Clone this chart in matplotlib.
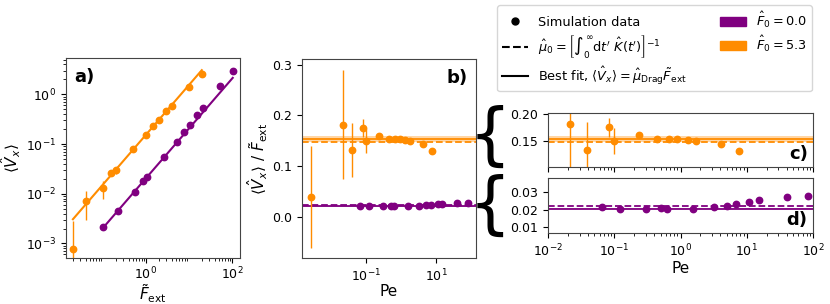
import numpy as np
import matplotlib
matplotlib.use("Agg")
import matplotlib.pyplot as plt
from matplotlib.lines import Line2D
from matplotlib.patches import Patch

# ---------------- data ----------------
# F0 = 5.3 (orange)
F_orange = np.array([0.02, 0.04, 0.10, 0.15, 0.20, 0.50, 1.0, 1.5, 2.0, 3.0, 4.0, 10.0, 20.0])
ratio_orange = np.array([0.039, 0.182, 0.132, 0.175, 0.149, 0.160, 0.154, 0.154, 0.153,
                         0.151, 0.149, 0.143, 0.130])
err_orange = np.array([0.100, 0.108, 0.053, 0.018, 0.024, 0.002, 0.002, 0.002, 0.002,
                       0.002, 0.002, 0.002, 0.002])
Pe_orange = np.array([0.00257, 0.0212, 0.0383, 0.0832, 0.0977, 0.236, 0.447, 0.678,
                      0.895, 1.31, 1.73, 4.14, 7.59])
mu_drag_orange = 0.1537
mu_drag_err_orange = 0.0053
mu0_orange = 0.1475

# F0 = 0.0 (purple)
F_purple = np.array([0.10, 0.22, 0.55, 0.87, 1.07, 2.7, 5.2, 7.9, 10.7, 15.8, 21.0, 54.0, 105.0])
ratio_purple = np.array([0.0213, 0.0202, 0.0202, 0.0208, 0.0202, 0.0202, 0.0213, 0.0222,
                         0.0231, 0.0245, 0.0255, 0.0272, 0.0280])
err_purple = np.array([0.0003] * 13)
Pe_purple = np.array([0.0653, 0.123, 0.305, 0.507, 0.625, 1.545, 3.24, 5.01, 6.92,
                      10.96, 15.1, 40.7, 83.2])
mu_drag_purple = 0.0205
mu_drag_err_purple = 0.0004
mu0_purple = 0.0223

ORANGE = "#FF8C00"
PURPLE = "#800080"

series = [
    (F_purple, ratio_purple, err_purple, Pe_purple, mu_drag_purple, mu_drag_err_purple, mu0_purple, PURPLE),
    (F_orange, ratio_orange, err_orange, Pe_orange, mu_drag_orange, mu_drag_err_orange, mu0_orange, ORANGE),
]

plt.rcParams["font.family"] = ["DejaVu Sans"]
plt.rcParams["xtick.labelsize"] = 9
plt.rcParams["ytick.labelsize"] = 9
plt.rcParams["axes.labelsize"] = 11
plt.rcParams["axes.edgecolor"] = "#444444"

W, H = 830, 304
fig = plt.figure(figsize=(W / 100, H / 100), dpi=100)


def box(x0, y0, x1, y1):
    return [x0 / W, 1 - y1 / H, (x1 - x0) / W, (y1 - y0) / H]


ax_a = fig.add_axes(box(66, 58, 240, 258))
ax_b = fig.add_axes(box(302, 59, 476, 258))
ax_c = fig.add_axes(box(548, 113, 813, 167))
ax_d = fig.add_axes(box(548, 178, 813, 233))

ms = 4.6

# ----- panel a -----
for F, r, e, Pe, mu, mue, mu0, col in series:
    V = r * F
    Verr = e * F
    ax_a.errorbar(F, V, yerr=Verr, fmt="o", color=col, ms=ms, lw=1.0, capsize=0)
    Fl = np.array([F.min(), F.max()])
    ax_a.plot(Fl, mu * Fl, color=col, lw=1.5)
ax_a.set_xscale("log")
ax_a.set_yscale("log")
ax_a.set_xticks([1e-2, 1e0, 1e2])
ax_a.set_yticks([1e-3, 1e-2, 1e-1, 1e0])
ax_a.set_xlim(0.0138, 155)
ax_a.set_ylim(5.1e-4, 5.4)
ax_a.tick_params(axis="x", which="major", pad=2)
ax_a.set_xlabel(r"$\tilde{F}_{\rm ext}$", labelpad=0)
ax_a.set_ylabel(r"$\langle \hat{V}_x \rangle$", labelpad=2)
ax_a.text(0.05, 0.95, "a)", transform=ax_a.transAxes, fontsize=13, fontweight="bold",
          ha="left", va="top")

# ----- panels b, c, d -----
def draw_ratio(ax, sel):
    for idx in sel:
        F, r, e, Pe, mu, mue, mu0, col = series[idx]
        ax.axhspan(mu - mue, mu + mue, color=col, alpha=0.35, lw=0)
        ax.axhline(mu, color=col, lw=1.3)
        ax.axhline(mu0, color=col, lw=1.3, ls="--")
        ax.errorbar(Pe, r, yerr=e, fmt="o", color=col, ms=ms, lw=1.0, capsize=0)
    ax.set_xscale("log")


draw_ratio(ax_b, [0, 1])
ax_b.set_xticks([1e-3, 1e-1, 1e1])
ax_b.set_yticks([0.0, 0.1, 0.2, 0.3])
ax_b.set_xlim(0.00145, 138)
ax_b.set_ylim(-0.0816, 0.3115)
ax_b.set_xlabel("Pe", labelpad=0)
ax_b.set_ylabel(r"$\langle \hat{V}_x \rangle\ /\ \tilde{F}_{\rm ext}$", labelpad=2)
ax_b.text(0.95, 0.95, "b)", transform=ax_b.transAxes, fontsize=13, fontweight="bold",
          ha="right", va="top")

draw_ratio(ax_c, [1])
ax_c.set_yticks([0.15, 0.20])
ax_c.set_yticklabels(["0.15", "0.20"])
ax_c.set_xticks([1e-2, 1e-1, 1e0, 1e1, 1e2])
ax_c.set_xlim(1e-2, 1e2)
ax_c.set_ylim(0.1008, 0.2019)
ax_c.tick_params(axis="x", labelbottom=False)
ax_c.text(0.98, 0.08, "c)", transform=ax_c.transAxes, fontsize=13, fontweight="bold",
          ha="right", va="bottom")

draw_ratio(ax_d, [0])
ax_d.set_yticks([0.01, 0.02, 0.03])
ax_d.set_xticks([1e-2, 1e-1, 1e0, 1e1, 1e2])
ax_d.set_xlim(1e-2, 1e2)
ax_d.set_ylim(0.0065, 0.0381)
ax_d.set_xlabel("Pe", labelpad=1)
ax_d.text(0.98, 0.08, "d)", transform=ax_d.transAxes, fontsize=13, fontweight="bold",
          ha="right", va="bottom")

# ----- braces -----
fig.text(490 / W, 1 - 138 / H, "{", fontsize=48, ha="center", va="center")
fig.text(490 / W, 1 - 207 / H, "{", fontsize=48, ha="center", va="center")

# ----- legend -----
handles = [
    Line2D([], [], color="black", marker="o", ls="none", ms=5),
    Line2D([], [], color="black", ls="--", lw=1.5),
    Line2D([], [], color="black", ls="-", lw=1.5),
    Patch(color=PURPLE),
    Patch(color=ORANGE),
]
labels = [
    "Simulation data",
    r"$\hat{\mu}_0 = \left[\int_0^\infty \mathrm{d}t^\prime\ \hat{K}(t^\prime)\right]^{-1}$",
    r"Best fit, $\langle \hat{V}_x \rangle = \hat{\mu}_{\rm Drag}\tilde{F}_{\rm ext}$",
    r"$\hat{F}_0 = 0.0$",
    r"$\hat{F}_0 = 5.3$",
]
fig.legend(handles, labels, ncol=2, loc="upper right", bbox_to_anchor=(812 / W, 1 - 5 / H),
           fontsize=9.3, frameon=True, borderaxespad=0, columnspacing=2.6,
           handlelength=2.0, labelspacing=0.35, borderpad=0.35)

fig.savefig("out.png", dpi=100)
